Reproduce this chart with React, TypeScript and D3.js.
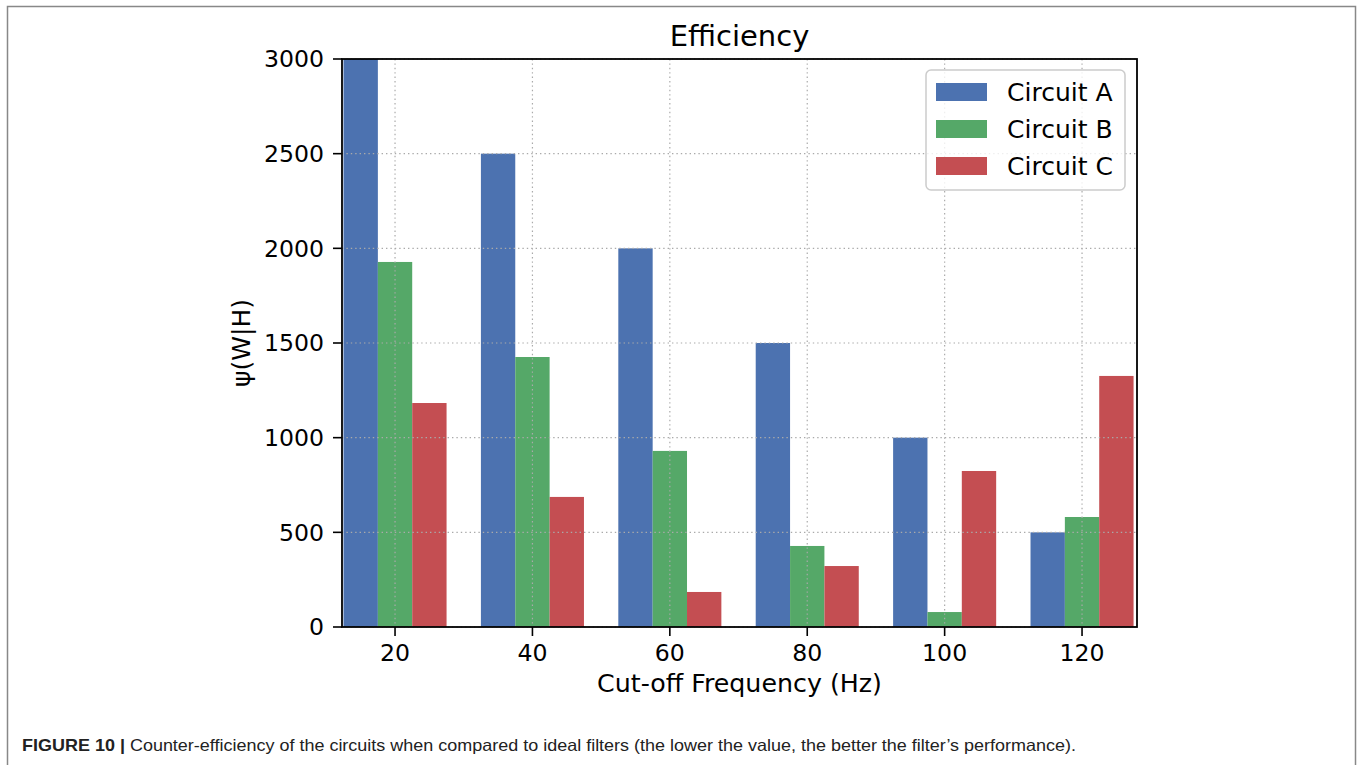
import React, { useEffect } from "react";
import * as d3 from "d3";

const categories = ["20", "40", "60", "80", "100", "120"];
const seriesNames = ["Circuit A", "Circuit B", "Circuit C"];
const circuitA = [3000, 2500, 2000, 1500, 1000, 500];
const circuitB = [1928, 1426, 930, 428, 79, 581];
const circuitC = [1183, 687, 185, 322, 824, 1326];
const yTicks = [0, 500, 1000, 1500, 2000, 2500, 3000];
const colors = ["#4C72B0", "#55A868", "#C44E52"];

const W = 1360;
const H = 765;
const plot = { left: 342, right: 1137, top: 59, bottom: 627 };
const FONT = "'DejaVu Sans', sans-serif";

export default function App() {
  useEffect(() => {
    document.body.style.margin = "0";
    document.body.style.overflow = "hidden";
  }, []);

  const series = [circuitA, circuitB, circuitC];
  const x = d3.scaleLinear().domain([-0.386, 5.4]).range([plot.left, plot.right]);
  const y = d3.scaleLinear().domain([0, 3000]).range([plot.bottom, plot.top]);
  const barW = 0.25;

  const gridStyle = { stroke: "#aaaaaa", strokeWidth: 1.2, strokeDasharray: "1.4,3" };

  return (
    <svg width={W} height={H} style={{ display: "block", background: "#fff" }}>
      {/* outer frame */}
      <rect x={7.5} y={6.5} width={1348} height={H + 10} fill="none" stroke="#888" strokeWidth={1.5} />

      {/* bars */}
      {series.map((vals, si) => (
        <g key={si}>
          {vals.map((v, ci) => {
            const x0 = x(ci - 1.5 * barW + si * barW);
            const x1 = x(ci - 1.5 * barW + (si + 1) * barW);
            return (
              <rect key={ci} x={x0} y={y(v)} width={x1 - x0} height={y(0) - y(v)} fill={colors[si]} />
            );
          })}
        </g>
      ))}

      {/* grid on top */}
      {yTicks.map((t) => (
        <line key={"gy" + t} x1={plot.left} x2={plot.right} y1={y(t)} y2={y(t)} {...gridStyle} />
      ))}
      {categories.map((c, i) => (
        <line key={"gx" + c} x1={x(i)} x2={x(i)} y1={plot.top} y2={plot.bottom} {...gridStyle} />
      ))}

      {/* spines */}
      <rect x={plot.left} y={plot.top} width={plot.right - plot.left} height={plot.bottom - plot.top} fill="none" stroke="#000" strokeWidth={1.8} />

      {/* y ticks */}
      {yTicks.map((t) => (
        <g key={"yt" + t}>
          <line x1={plot.left - 9} x2={plot.left} y1={y(t)} y2={y(t)} stroke="#000" strokeWidth={1.6} />
          <text x={plot.left - 18} y={y(t)} dy="0.36em" textAnchor="end" fontFamily={FONT} fontSize={23.6} fill="#000">
            {t}
          </text>
        </g>
      ))}

      {/* x ticks */}
      {categories.map((c, i) => (
        <g key={"xt" + c}>
          <line x1={x(i)} x2={x(i)} y1={plot.bottom} y2={plot.bottom + 9} stroke="#000" strokeWidth={1.6} />
          <text x={x(i)} y={661} textAnchor="middle" fontFamily={FONT} fontSize={23.6} fill="#000">
            {c}
          </text>
        </g>
      ))}

      {/* title & labels */}
      <text x={(plot.left + plot.right) / 2} y={46} textAnchor="middle" fontFamily={FONT} fontSize={29} fill="#000">
        Efficiency
      </text>
      <text x={(plot.left + plot.right) / 2} y={692} textAnchor="middle" fontFamily={FONT} fontSize={25.3} fill="#000">
        Cut-off Frequency (Hz)
      </text>
      <text transform={`translate(250, ${(plot.top + plot.bottom) / 2}) rotate(-90)`} textAnchor="middle" fontFamily={FONT} fontSize={25} fill="#000">
        ψ(W|H)
      </text>

      {/* legend */}
      <g>
        <rect x={926} y={70} width={199} height={120} rx={5} fill="#fff" fillOpacity={0.8} stroke="#cccccc" strokeWidth={1.5} />
        {seriesNames.map((n, i) => (
          <g key={n}>
            <rect x={936} y={83 + i * 37} width={51} height={18} fill={colors[i]} />
            <text x={1007} y={92 + i * 37} dy="0.36em" fontFamily={FONT} fontSize={25} fill="#000">
              {n}
            </text>
          </g>
        ))}
      </g>

      {/* caption */}
      <text x={22} y={751} fontFamily="'Liberation Sans', Arial, sans-serif" fontSize={16.5} fill="#222" textLength={1054} lengthAdjust="spacingAndGlyphs">
        <tspan fontWeight="bold">FIGURE 10 | </tspan>
        <tspan>Counter-efficiency of the circuits when compared to ideal filters (the lower the value, the better the filter’s performance).</tspan>
      </text>
    </svg>
  );
}
